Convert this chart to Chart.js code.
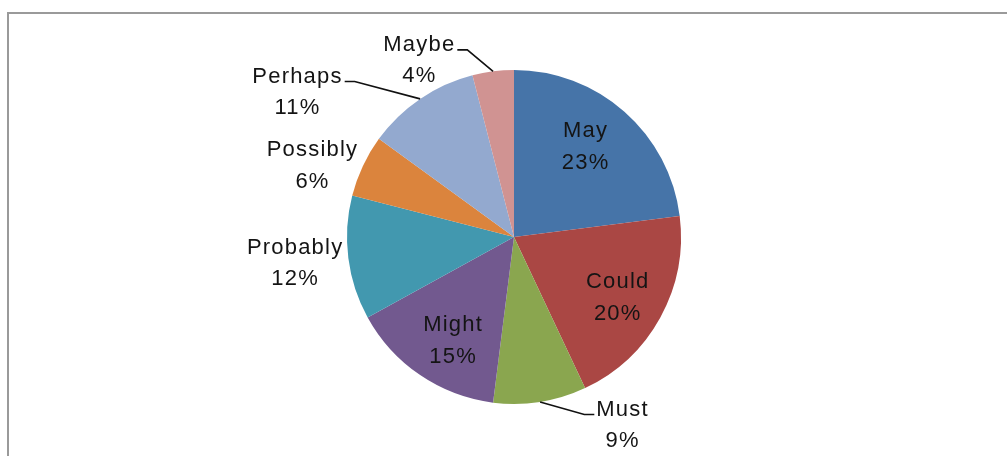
<!DOCTYPE html>
<html lang="en">
<head>
    <meta charset="UTF-8">
    <title>Modal verbs</title>
    <script src="https://cdn.jsdelivr.net/npm/chart.js"></script>
    <style>
        body { margin: 0; background: #fff; }
        #wrap { position: absolute; left: 0; top: 0; width: 1007px; height: 456px; overflow: hidden; }
        #frame { position: absolute; left: 7px; top: 12px; width: 1200px; height: 600px;
                 border-top: 2px solid #9a9a9a; border-left: 2px solid #9a9a9a; }
        canvas { position: absolute; left: 0; top: 0; }
    </style>
</head>
<body>
<div id="wrap">
    <div id="frame"></div>
    <canvas id="myChart" width="1007" height="456"></canvas>
</div>

<script>
    // data
    let labels = ['May', 'Could', 'Must', 'Might', 'Probably', 'Possibly', 'Perhaps', 'Maybe'];
    let values = [23, 20, 9, 15, 12, 6, 11, 4];
    let colors = ['#4674a8', '#aa4744', '#8aa64f', '#72598f', '#4298af', '#db843d', '#93a9cf', '#d09392'];

    // where each label sits: r = fraction of radius, da = degrees off the slice middle
    let labelPos = [
        { r: 0.69, da: -3, leader: false },
        { r: 0.72, da: 1.6, leader: false },
        { r: 1.30, da: -21, leader: true },
        { r: 0.72, da: -3.8, leader: false },
        { r: 1.32, da: 0.4, leader: false },
        { r: 1.28, da: -5.7, leader: false },
        { r: 1.56, da: -22, leader: true },
        { r: 1.20, da: -21, leader: true }
    ];

    let pieLabels = {
        id: 'pieLabels',
        afterDatasetsDraw(chart) {
            let ctx = chart.ctx;
            let meta = chart.getDatasetMeta(0);
            let total = values.reduce((a, b) => a + b, 0);
            ctx.save();
            ctx.font = '22px "Liberation Sans", Arial, sans-serif';
            ctx.letterSpacing = '1.2px';
            ctx.fillStyle = '#141414';
            ctx.textAlign = 'center';
            ctx.textBaseline = 'middle';
            meta.data.forEach((arc, i) => {
                let p = arc.getProps(['x', 'y', 'startAngle', 'endAngle', 'outerRadius'], true);
                let mid = (p.startAngle + p.endAngle) / 2;
                let a = mid + labelPos[i].da * Math.PI / 180;
                let cx = p.x + Math.cos(a) * p.outerRadius * labelPos[i].r;
                let cy = p.y + Math.sin(a) * p.outerRadius * labelPos[i].r;
                let pct = Math.round(values[i] / total * 100) + '%';
                ctx.fillText(labels[i], cx, cy - 15.5);
                ctx.fillText(pct, cx, cy + 16);

                if (labelPos[i].leader) {
                    let w = ctx.measureText(labels[i]).width;
                    let ex = p.x + Math.cos(mid) * p.outerRadius;
                    let ey = p.y + Math.sin(mid) * p.outerRadius;
                    let ly = cy - 10.5;
                    // leader runs from the side of the name that faces the pie
                    let side = ex > cx ? 1 : -1;
                    let x0 = cx + side * (w / 2 + 2);
                    let x1 = x0 + side * 10;
                    ctx.beginPath();
                    ctx.moveTo(x0, ly);
                    ctx.lineTo(x1, ly);
                    ctx.lineTo(ex, ey);
                    ctx.strokeStyle = '#111';
                    ctx.lineWidth = 1.6;
                    ctx.stroke();
                }
            });
            ctx.restore();
        }
    };

    let ctx = document.getElementById('myChart').getContext('2d');
    let myChart = new Chart(ctx, {
        type: 'pie',
        data: {
            labels: labels,
            datasets: [{
                data: values,
                backgroundColor: colors,
                borderWidth: 0
            }]
        },
        options: {
            responsive: false,
            animation: false,
            layout: { padding: { left: 347, right: 326, top: 70, bottom: 52 } },
            plugins: {
                legend: { display: false },
                tooltip: { enabled: false }
            }
        },
        plugins: [pieLabels]
    });
</script>
</body>
</html>
